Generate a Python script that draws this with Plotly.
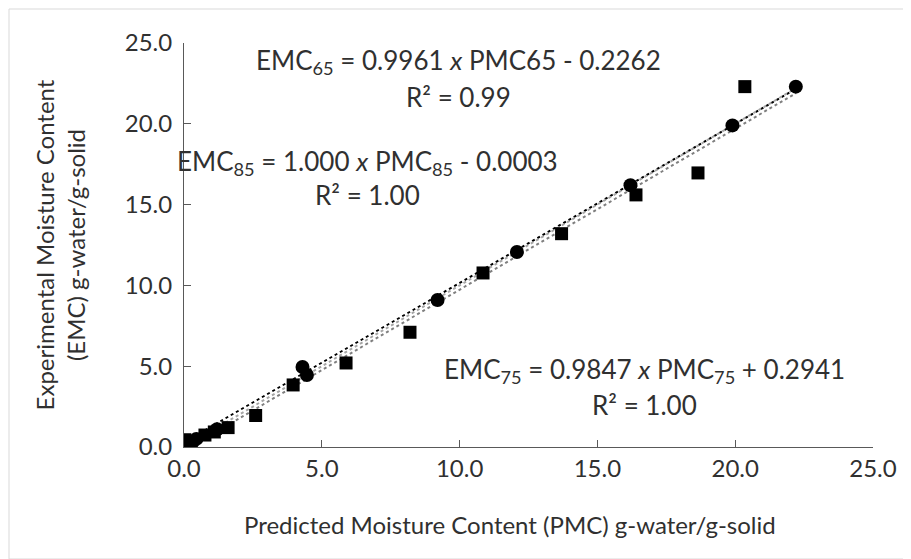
import plotly.graph_objects as go

# --- data ---
pmc65 = [0.03, 0.76, 1.10, 1.60, 2.60, 3.96, 5.88, 8.20, 10.85, 13.70, 16.40, 18.65, 20.35]
emc65 = [0.45, 0.74, 0.93, 1.20, 1.95, 3.84, 5.20, 7.10, 10.77, 13.20, 15.60, 16.96, 22.30]

pmc75 = [0.20, 0.45, 4.30, 9.20, 16.20, 22.20]
emc75 = [0.15, 0.50, 4.95, 9.10, 16.20, 22.30]

pmc85 = [0.30, 1.20, 4.46, 12.08, 19.90]
emc85 = [0.28, 1.10, 4.46, 12.07, 19.90]

# trendline coefficients (from the equations printed on the chart)
slopes = [0.9961, 0.9847, 1.000]
intercepts = [-0.2262, 0.2941, -0.0003]
trend_x = [0.0, 22.2]

x_ticks = [0, 5, 10, 15, 20, 25]
x_ticklabels = ["0.0", "5.0", "10.0", "15.0", "20.0", "25.0"]
y_ticks = [0, 5, 10, 15, 20, 25]
y_ticklabels = ["0.0", "5.0", "10.0", "15.0", "20.0", "25.0"]

FONT = "Lato, 'Open Sans', sans-serif"
TXT = "#303030"

fig = go.Figure()

trend_colors = ["#7f7f7f", "#000000", "#a6a6a6"]
for s, b, c in zip(slopes, intercepts, trend_colors):
    fig.add_trace(go.Scatter(
        x=trend_x, y=[s * v + b for v in trend_x], mode="lines",
        line=dict(color=c, width=2, dash="dot"), showlegend=False, hoverinfo="skip"))

fig.add_trace(go.Scatter(x=pmc65, y=emc65, mode="markers", name="65",
                         marker=dict(symbol="square", size=13, color="black")))
fig.add_trace(go.Scatter(x=pmc75, y=emc75, mode="markers", name="75",
                         marker=dict(symbol="circle", size=14, color="black")))
fig.add_trace(go.Scatter(x=pmc85, y=emc85, mode="markers", name="85",
                         marker=dict(symbol="circle", size=14, color="black")))

ann_font = dict(family=FONT, size=26, color=TXT)
annotations = [
    dict(x=0.398, y=0.953, text="EMC<sub>65</sub> = 0.9961 <i>x</i> PMC65 - 0.2262"),
    dict(x=0.398, y=0.866, text="R² = 0.99"),
    dict(x=0.267, y=0.705, text="EMC<sub>85</sub> = 1.000 <i>x</i> PMC<sub>85</sub> - 0.0003"),
    dict(x=0.267, y=0.624, text="R² = 1.00"),
    dict(x=0.669, y=0.19, text="EMC<sub>75</sub> = 0.9847 <i>x</i> PMC<sub>75</sub> + 0.2941"),
    dict(x=0.669, y=0.104, text="R² = 1.00"),
]
for a in annotations:
    a.update(xref="paper", yref="paper", showarrow=False, font=ann_font,
             xanchor="center", yanchor="middle")

# x-axis title, centred on the chart area as in the reference
annotations.append(dict(
    x=0.473, y=-0.193, xref="paper", yref="paper", showarrow=False,
    xanchor="center", yanchor="middle",
    text="Predicted Moisture Content (PMC) g-water/g-solid",
    font=dict(size=24, family=FONT, color=TXT)))

# page body adds an 8px offset, margins compensate for it
fig.update_layout(
    width=911, height=559,
    margin=dict(l=176, r=46, t=35, b=120),
    paper_bgcolor="white", plot_bgcolor="white",
    showlegend=False,
    font=dict(family=FONT, color=TXT),
    annotations=annotations,
    shapes=[dict(type="rect", xref="paper", yref="paper",
                 x0=-175/689, x1=1 + 36/689, y0=-112/404, y1=1 + 34/404,
                 line=dict(color="#d9d9d9", width=1))],
)
fig.update_xaxes(
    range=[0, 25], tickvals=x_ticks, ticktext=x_ticklabels, automargin=False,
    showgrid=False, zeroline=False, showline=True, linecolor="#595959", linewidth=1,
    ticks="inside", ticklen=7, tickcolor="#595959",
    tickfont=dict(size=24, family=FONT, color=TXT),
)
fig.update_yaxes(
    range=[0, 25], tickvals=y_ticks, ticktext=y_ticklabels, automargin=False,
    showgrid=False, zeroline=False, showline=True, linecolor="#595959", linewidth=1,
    ticks="inside", ticklen=7, tickcolor="#595959",
    tickfont=dict(size=24, family=FONT, color=TXT),
    ticklabelstandoff=6,
    title=dict(text="Experimental Moisture Content<br>(EMC) g-water/g-solid",
               font=dict(size=24, family=FONT, color=TXT), standoff=32),
)

fig.write_html("out.html")
